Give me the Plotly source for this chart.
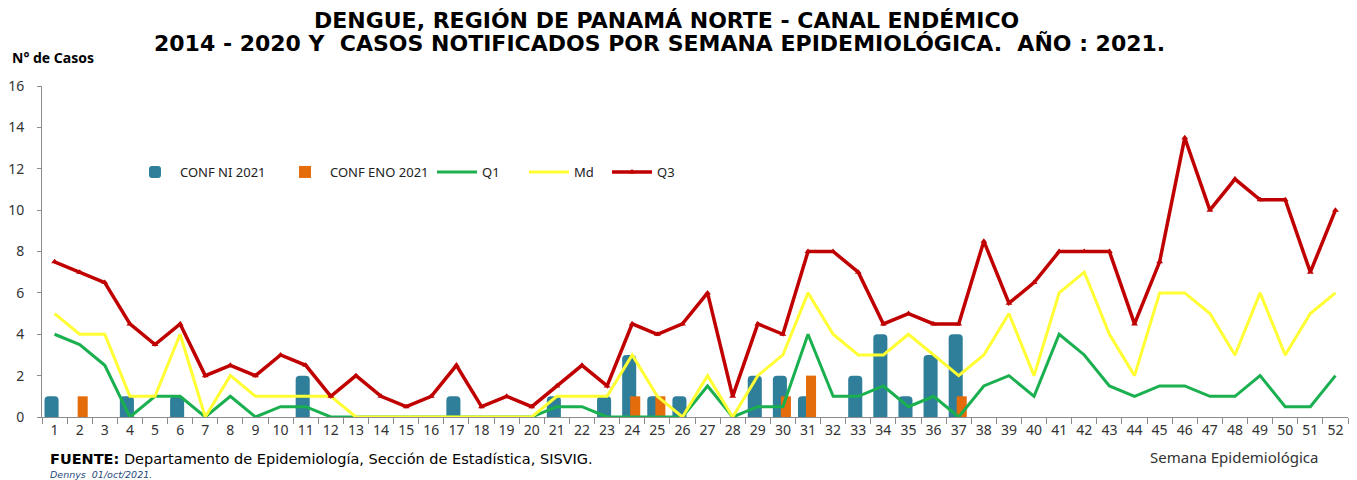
import plotly.graph_objects as go

weeks = list(range(1, 53))
week_labels = [str(w) for w in weeks]

conf_ni_2021 = [1, 0, 0, 1, 0, 1, 0, 0, 0, 0, 2, 0, 0, 0, 0, 0, 1, 0, 0, 0,
                1, 0, 1, 3, 1, 1, 0, 0, 2, 2, 1, 0, 2, 4, 1, 3, 4]
conf_eno_2021 = [0, 1, 0, 0, 0, 0, 0, 0, 0, 0, 0, 0, 0, 0, 0, 0, 0, 0, 0, 0,
                 0, 0, 0, 1, 1, 0, 0, 0, 0, 1, 2, 0, 0, 0, 0, 0, 1]
q1 = [4, 3.5, 2.5, 0, 1, 1, 0, 1, 0, 0.5, 0.5, 0, 0, 0, 0, 0, 0, 0, 0, 0,
      0.5, 0.5, 0, 0, 0, 0, 1.5, 0, 0.5, 0.5, 4, 1, 1, 1.5, 0.5, 1, 0, 1.5, 2, 1,
      4, 3, 1.5, 1, 1.5, 1.5, 1, 1, 2, 0.5, 0.5, 2]
md = [5, 4, 4, 1, 1, 4, 0, 2, 1, 1, 1, 1, 0, 0, 0, 0, 0, 0, 0, 0,
      1, 1, 1, 3, 1, 0, 2, 0, 2, 3, 6, 4, 3, 3, 4, 3, 2, 3, 5, 2,
      6, 7, 4, 2, 6, 6, 5, 3, 6, 3, 5, 6]
q3 = [7.5, 7, 6.5, 4.5, 3.5, 4.5, 2, 2.5, 2, 3, 2.5, 1, 2, 1, 0.5, 1, 2.5, 0.5, 1, 0.5,
      1.5, 2.5, 1.5, 4.5, 4, 4.5, 6, 1, 4.5, 4, 8, 8, 7, 4.5, 5, 4.5, 4.5, 8.5, 5.5, 6.5,
      8, 8, 8, 4.5, 7.5, 13.5, 10, 11.5, 10.5, 10.5, 7, 10]

L, R, T, B = 42, 9, 86, 63
W, H = 1357, 480
PW = W - L - R
PH = H - T - B


def px_x(px):
    return (px - L) / PW


def px_y(py):
    return (H - B - py) / PH


fig = go.Figure()
fig.add_trace(go.Bar(x=weeks[:len(conf_ni_2021)], y=conf_ni_2021, name="CONF NI 2021",
                     marker=dict(color="#2F7F9B", cornerradius=4, line=dict(width=0)),
                     width=0.56, offset=-0.40, legend="legend"))
fig.add_trace(go.Bar(x=weeks[:len(conf_eno_2021)], y=conf_eno_2021, name="CONF ENO 2021",
                     marker=dict(color="#E46C0A", line=dict(width=0)),
                     width=0.40, offset=-0.08, legend="legend2"))
fig.add_trace(go.Scatter(x=weeks, y=q1, name="Q1", mode="lines",
                         line=dict(color="#1AAF4F", width=3), legend="legend3"))
fig.add_trace(go.Scatter(x=weeks, y=md, name="Md", mode="lines",
                         line=dict(color="#FFFF33", width=3), legend="legend4"))
fig.add_trace(go.Scatter(x=weeks, y=q3, name="Q3", mode="lines+markers",
                         line=dict(color="#C00000", width=3.5),
                         marker=dict(symbol="triangle-up", size=6, color="#C00000"),
                         legend="legend5"))

leg_font = dict(family="Noto Sans", size=13, color="#222222")


def leg(text_px):
    return dict(orientation="h", x=px_x(text_px - 50), y=px_y(172), xanchor="left",
                yanchor="middle", font=leg_font, bgcolor="rgba(0,0,0,0)",
                borderwidth=0, itemwidth=40)


fig.update_layout(
    width=W, height=H,
    margin=dict(l=L, r=R, t=T, b=B),
    paper_bgcolor="white", plot_bgcolor="white",
    barmode="overlay",
    showlegend=True,
    legend=leg(180), legend2=leg(330), legend3=leg(482), legend4=leg(574), legend5=leg(657),
    font=dict(family="Noto Sans", color="#333333"),
)
fig.update_xaxes(range=[0.5, 52.5], tickmode="array", tickvals=weeks, ticktext=week_labels,
                 ticks="", showgrid=False, zeroline=False,
                 showline=True, linecolor="#8C8C8C", linewidth=1,
                 tickfont=dict(family="Noto Sans", size=14, color="#333333"),
                 minor=dict(tick0=0.5, dtick=1, ticks="outside", ticklen=6,
                            tickcolor="#8C8C8C", showgrid=False))
fig.update_yaxes(range=[0, 16], tickmode="array", tickvals=list(range(0, 17, 2)),
                 ticks="outside", ticklen=4, tickcolor="#8C8C8C",
                 ticklabelstandoff=10,
                 showgrid=False, zeroline=False,
                 showline=True, linecolor="#8C8C8C", linewidth=1,
                 tickfont=dict(family="Noto Sans", size=14, color="#333333"))

fig.add_annotation(text="<b>DENGUE, REGIÓN DE PANAMÁ NORTE - CANAL ENDÉMICO</b>",
                   xref="paper", yref="paper", x=px_x(666), y=1.0, yshift=T - 20,
                   yanchor="middle", showarrow=False,
                   font=dict(family="DejaVu Sans", size=22, color="black"))
fig.add_annotation(text="<b>2014 - 2020 Y  CASOS NOTIFICADOS POR SEMANA EPIDEMIOLÓGICA.  AÑO : 2021.</b>",
                   xref="paper", yref="paper", x=px_x(659), y=1.0, yshift=T - 43,
                   yanchor="middle", showarrow=False,
                   font=dict(family="DejaVu Sans", size=22, color="black"))
fig.add_annotation(text="<b>N° de Casos</b>", xref="paper", yref="paper",
                   x=px_x(10), y=1.0, yshift=T - 57, xanchor="left", yanchor="middle",
                   showarrow=False, font=dict(family="Noto Sans", size=14, color="black"))
fig.add_annotation(text="<b>FUENTE:</b> Departamento de Epidemiología, Sección de Estadística, SISVIG.",
                   xref="paper", yref="paper", x=px_x(48), y=0, yshift=-(459 - (H - B)),
                   xanchor="left", yanchor="middle", showarrow=False,
                   font=dict(family="DejaVu Sans", size=14.5, color="black"))
fig.add_annotation(text="<i>Dennys  01/oct/2021.</i>",
                   xref="paper", yref="paper", x=px_x(48), y=0, yshift=-(474.5 - (H - B)),
                   xanchor="left", yanchor="middle", showarrow=False,
                   font=dict(family="DejaVu Sans", size=9.5, color="#1F497D"))
fig.add_annotation(text="Semana Epidemiológica",
                   xref="paper", yref="paper", x=px_x(1320), y=0, yshift=-(457 - (H - B)),
                   xanchor="right", yanchor="middle", showarrow=False,
                   font=dict(family="Noto Sans", size=15, color="#333333"))

fig.write_html("out.html", post_script="document.body.style.margin='0px';",
               config={"displayModeBar": False})
